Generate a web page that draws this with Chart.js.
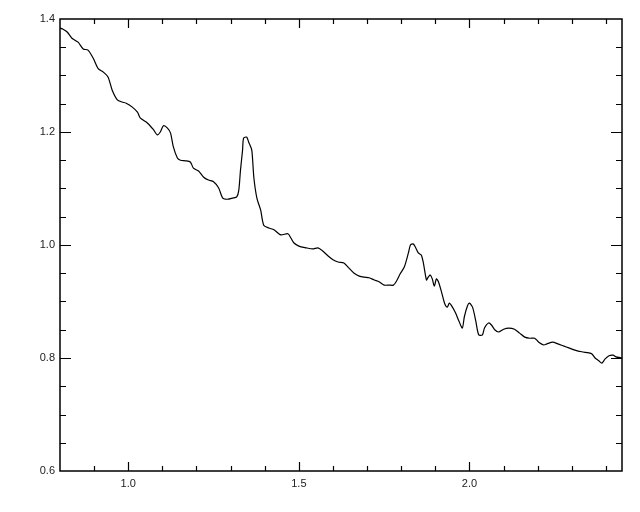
<!DOCTYPE html>
<html>
<head>
<meta charset="utf-8">
<script src="https://cdn.jsdelivr.net/npm/chart.js@4.4.0/dist/chart.umd.min.js"></script>
<style>
  body { margin: 0; background: #fff; }
  #wrap { width: 640px; height: 512px; }
</style>
</head>
<body>
<div id="wrap"><canvas id="myChart" width="640" height="512"></canvas></div>
<script>
// spectrum
const xs = [0.800, 0.809, 0.821, 0.835, 0.853, 0.868, 0.882, 0.897, 0.912, 0.927,
  0.941, 0.953, 0.968, 0.982, 0.994, 1.012, 1.027, 1.035, 1.056, 1.074,
  1.085, 1.094, 1.103, 1.115, 1.124, 1.132, 1.144, 1.153, 1.168, 1.182,
  1.191, 1.206, 1.221, 1.235, 1.250, 1.265, 1.277, 1.291, 1.306, 1.318,
  1.324, 1.329, 1.335, 1.338, 1.347, 1.353, 1.362, 1.368, 1.377, 1.388,
  1.397, 1.412, 1.427, 1.447, 1.468, 1.477, 1.485, 1.500, 1.521, 1.541,
  1.556, 1.571, 1.585, 1.600, 1.615, 1.632, 1.647, 1.662, 1.677, 1.691,
  1.706, 1.721, 1.735, 1.750, 1.765, 1.777, 1.785, 1.797, 1.809, 1.821,
  1.827, 1.835, 1.841, 1.850, 1.859, 1.865, 1.874, 1.879, 1.885, 1.891,
  1.897, 1.903, 1.909, 1.918, 1.927, 1.935, 1.941, 1.950, 1.959, 1.968,
  1.979, 1.985, 1.994, 2.000, 2.009, 2.018, 2.027, 2.038, 2.044, 2.056,
  2.065, 2.074, 2.085, 2.100, 2.115, 2.132, 2.147, 2.162, 2.177, 2.191,
  2.203, 2.218, 2.227, 2.244, 2.259, 2.277, 2.291, 2.309, 2.329, 2.350,
  2.359, 2.368, 2.379, 2.388, 2.397, 2.409, 2.421, 2.429, 2.447];
const ys = [1.384, 1.382, 1.377, 1.366, 1.359, 1.347, 1.345, 1.331, 1.312, 1.306,
  1.297, 1.274, 1.257, 1.253, 1.251, 1.244, 1.235, 1.225, 1.216, 1.204,
  1.195, 1.200, 1.211, 1.207, 1.198, 1.174, 1.154, 1.150, 1.149, 1.147,
  1.136, 1.131, 1.120, 1.115, 1.112, 1.101, 1.083, 1.081, 1.083, 1.085,
  1.097, 1.133, 1.168, 1.189, 1.191, 1.182, 1.168, 1.120, 1.083, 1.062,
  1.035, 1.030, 1.027, 1.018, 1.020, 1.012, 1.004, 0.998, 0.995, 0.993,
  0.995, 0.989, 0.981, 0.974, 0.970, 0.968, 0.959, 0.950, 0.945, 0.943,
  0.942, 0.938, 0.935, 0.929, 0.929, 0.929, 0.935, 0.949, 0.961, 0.986,
  1.000, 1.002, 0.997, 0.986, 0.982, 0.968, 0.938, 0.943, 0.947, 0.940,
  0.927, 0.940, 0.935, 0.917, 0.897, 0.890, 0.897, 0.890, 0.880, 0.867,
  0.853, 0.873, 0.892, 0.897, 0.890, 0.867, 0.841, 0.841, 0.853, 0.862,
  0.858, 0.850, 0.846, 0.851, 0.853, 0.851, 0.844, 0.837, 0.835, 0.835,
  0.828, 0.823, 0.825, 0.828, 0.825, 0.821, 0.818, 0.814, 0.811, 0.809,
  0.807, 0.800, 0.795, 0.791, 0.798, 0.804, 0.805, 0.802, 0.800];

const xMin = 0.8;
const xMax = 2.447;
const yMin = 0.6;
const yMax = 1.4;
const xLabels = [1.0, 1.5, 2.0];
const yLabels = [0.6, 0.8, 1.0, 1.2, 1.4];
const xMinorStep = 0.1;
const yMinorStep = 0.05;

// box and inward ticks on all four sides
const boxTicks = {
  id: 'boxTicks',
  afterDraw(chart) {
    const ctx = chart.ctx;
    const a = chart.chartArea;
    const sx = chart.scales.x;
    const sy = chart.scales.y;
    ctx.save();
    ctx.strokeStyle = '#000';
    ctx.lineWidth = 1.5;
    ctx.strokeRect(a.left, a.top, a.right - a.left, a.bottom - a.top);
    ctx.lineWidth = 1.2;
    ctx.beginPath();
    for (let i = 1; xMin + i * xMinorStep <= xMax + 1e-9; i++) {
      let v = +(xMin + i * xMinorStep).toFixed(2);
      let major = Math.abs(v * 2 - Math.round(v * 2)) < 1e-6;
      let len = major ? 9 : 5;
      let px = Math.round(sx.getPixelForValue(v)) + 0.5;
      ctx.moveTo(px, a.bottom); ctx.lineTo(px, a.bottom - len);
      ctx.moveTo(px, a.top); ctx.lineTo(px, a.top + len);
    }
    for (let i = 1; yMin + i * yMinorStep < yMax - 1e-9; i++) {
      let v = +(yMin + i * yMinorStep).toFixed(2);
      let major = Math.abs(v * 5 - Math.round(v * 5)) < 1e-6;
      let len = major ? 11 : 6;
      let py = Math.round(sy.getPixelForValue(v)) + 0.5;
      ctx.moveTo(a.left, py); ctx.lineTo(a.left + len, py);
      ctx.moveTo(a.right, py); ctx.lineTo(a.right - len, py);
    }
    ctx.stroke();
    ctx.restore();
  }
};

function show_spectrum() {
  const ctx = document.getElementById('myChart');
  const points = xs.map((x, i) => ({ x: x, y: ys[i] }));

  new Chart(ctx, {
    type: 'line',
    data: {
      datasets: [{
        data: points,
        borderColor: '#000',
        borderWidth: 1.2,
        pointRadius: 0,
        tension: 0.25,
        fill: false
      }]
    },
    options: {
      responsive: false,
      animation: false,
      layout: { padding: { top: 19, right: 18, left: 0, bottom: 0 } },
      plugins: { legend: { display: false }, tooltip: { enabled: false } },
      scales: {
        x: {
          type: 'linear',
          min: xMin,
          max: xMax,
          grid: { display: false, drawTicks: false },
          border: { display: false },
          afterBuildTicks: (s) => { s.ticks = xLabels.map(v => ({ value: v })); },
          afterFit: (s) => { s.height = 41; },
          ticks: {
            padding: 6,
            color: '#222',
            font: { family: 'Liberation Sans', size: 11 },
            maxRotation: 0,
            callback: (v) => Number(v).toFixed(1)
          }
        },
        y: {
          type: 'linear',
          min: yMin,
          max: yMax,
          grid: { display: false, drawTicks: false },
          border: { display: false },
          afterBuildTicks: (s) => { s.ticks = yLabels.map(v => ({ value: v })); },
          afterFit: (s) => { s.width = 60; },
          ticks: {
            padding: 5,
            color: '#222',
            font: { family: 'Liberation Sans', size: 11 },
            callback: (v) => Number(v).toFixed(1)
          }
        }
      }
    },
    plugins: [boxTicks]
  });
}

show_spectrum();
</script>
</body>
</html>
